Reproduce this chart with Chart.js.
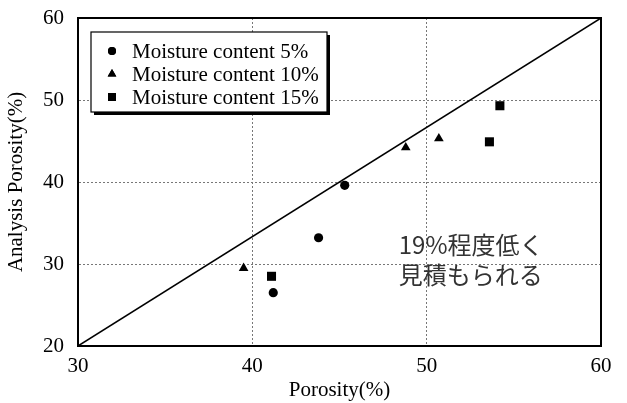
<!DOCTYPE html>
<html>
<head>
<meta charset="utf-8">
<script src="https://cdn.jsdelivr.net/npm/chart.js@4/dist/chart.umd.min.js"></script>
<style>
  html, body { margin: 0; padding: 0; background: #fff; }
  #wrap { width: 627px; height: 403px; }
</style>
</head>
<body>
<div id="wrap"><canvas id="chart" width="627" height="403"></canvas></div>
<script>
// ---- data ----
const SERIES_NAMES = ["Moisture content 5%", "Moisture content 10%", "Moisture content 15%"];
const moist5  = [{x: 41.2, y: 26.5}, {x: 43.8, y: 33.2}, {x: 45.3, y: 39.6}];
const moist10 = [{x: 39.5, y: 29.5}, {x: 48.8, y: 44.2}, {x: 50.7, y: 45.3}];
const moist15 = [{x: 41.1, y: 28.5}, {x: 53.6, y: 44.9}, {x: 54.2, y: 49.3}];
const diagonal = [{x: 30, y: 20}, {x: 60, y: 60}];
const X_RANGE = [30, 60];
const Y_RANGE = [20, 60];
const NOTE_LINES = ["19%程度低く", "見積もられる"];

const SERIF = "'Liberation Serif', 'DejaVu Serif', serif";
const POINT_STYLES = ["circle", "triangle", "rect"];
const POINT_SIZES = [4.6, 5.6, 6.4];
const LEGEND_SIZES = [4, 5, 5.6];

// frame + legend box + note
const extras = {
  id: "extras",
  afterDraw(chart){
    const ctx = chart.ctx;
    const a = chart.chartArea;
    ctx.save();
    // full frame
    ctx.strokeStyle = "#000";
    ctx.lineWidth = 2;
    ctx.strokeRect(a.left, a.top, a.right - a.left, a.bottom - a.top);

    // legend box with shadow
    const bx = 91, by = 32, bw = 236, bh = 80;
    ctx.fillStyle = "#000";
    ctx.fillRect(bx + 3, by + 3, bw, bh);
    ctx.fillStyle = "#fff";
    ctx.fillRect(bx, by, bw, bh);
    ctx.lineWidth = 1.2;
    ctx.strokeRect(bx, by, bw, bh);

    ctx.font = "21px " + SERIF;
    ctx.textBaseline = "middle";
    ctx.textAlign = "left";
    const rows = [51, 74, 97];
    SERIES_NAMES.forEach((name, i) => {
      ctx.fillStyle = "#000";
      Chart.helpers.drawPoint(ctx, {
        pointStyle: POINT_STYLES[i],
        radius: LEGEND_SIZES[i],
        rotation: 0,
        borderWidth: 0
      }, 112, rows[i]);
      ctx.fill();
      ctx.fillText(name, 132, rows[i] + 1);
    });

    // note text
    ctx.font = "24px 'Noto Sans CJK JP', sans-serif";
    ctx.fillStyle = "#333";
    const xs = chart.scales.x, ys = chart.scales.y;
    const nx = xs.getPixelForValue(48.4);
    ctx.fillText(NOTE_LINES[0], nx, ys.getPixelForValue(32.3));
    ctx.fillText(NOTE_LINES[1], nx, ys.getPixelForValue(28.7));
    ctx.restore();
  }
};

function scatterSet(label, data, i){
  return {
    type: "scatter",
    label,
    data,
    pointStyle: POINT_STYLES[i],
    pointRadius: POINT_SIZES[i],
    backgroundColor: "#000",
    borderColor: "#000",
    borderWidth: 0
  };
}

new Chart(document.getElementById("chart"), {
  type: "scatter",
  data: {
    datasets: [
      {
        type: "line",
        label: "1:1",
        data: diagonal,
        borderColor: "#000",
        borderWidth: 1.5,
        pointRadius: 0,
        fill: false
      },
      scatterSet(SERIES_NAMES[0], moist5, 0),
      scatterSet(SERIES_NAMES[1], moist10, 1),
      scatterSet(SERIES_NAMES[2], moist15, 2)
    ]
  },
  options: {
    responsive: false,
    animation: false,
    events: [],
    layout: { padding: { top: 18, right: 26, left: 0, bottom: 0 } },
    plugins: { legend: { display: false }, tooltip: { enabled: false } },
    scales: {
      x: {
        type: "linear",
        min: X_RANGE[0], max: X_RANGE[1],
        afterFit: s => { s.height = 57; s.paddingLeft = 0; s.paddingRight = 0; },
        ticks: { stepSize: 10, color: "#000", padding: 8, font: { family: SERIF, size: 21 } },
        grid: { color: "#777", lineWidth: 1, drawTicks: false },
        border: { color: "#000", width: 2, dash: [2, 2] },
        title: { display: true, text: "Porosity(%)", color: "#000", padding: 0,
                 font: { family: SERIF, size: 21 } }
      },
      y: {
        type: "linear",
        min: Y_RANGE[0], max: Y_RANGE[1],
        afterFit: s => { s.width = 78; s.paddingTop = 0; s.paddingBottom = 0; },
        ticks: { stepSize: 10, color: "#000", padding: 14, font: { family: SERIF, size: 21 } },
        grid: { color: "#777", lineWidth: 1, drawTicks: false },
        border: { color: "#000", width: 2, dash: [2, 2] },
        title: { display: true, text: "Analysis Porosity(%)", color: "#000", padding: { top: 4, bottom: 0 },
                 font: { family: SERIF, size: 21 } }
      }
    }
  },
  plugins: [extras]
});
</script>
</body>
</html>
